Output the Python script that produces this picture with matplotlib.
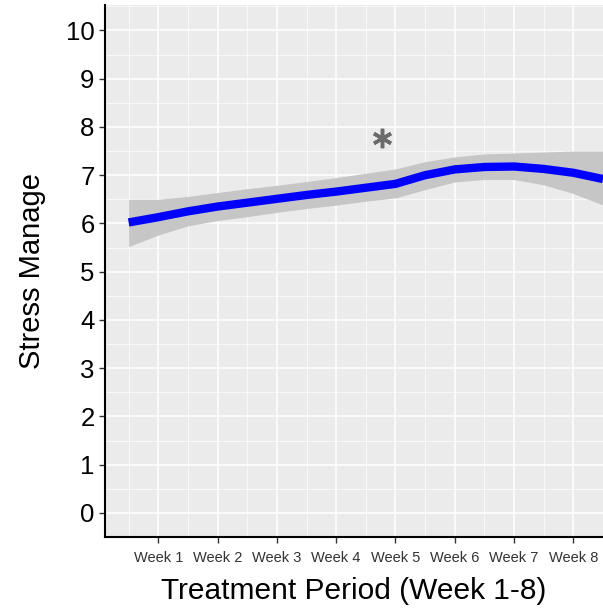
import matplotlib.pyplot as plt

plt.rcParams['font.family'] = ['Liberation Sans', 'DejaVu Sans']

# Loess-style fitted trend of stress management over the treatment weeks
weeks = [0.5, 1.0, 1.5, 2.0, 2.5, 3.0, 3.5, 4.0, 4.5, 5.0, 5.5, 6.0, 6.5, 7.0, 7.5, 8.0, 8.5]
fit = [6.02, 6.13, 6.25, 6.35, 6.43, 6.51, 6.59, 6.66, 6.74, 6.82, 7.00, 7.12, 7.17, 7.18, 7.13, 7.05, 6.92]
upper = [6.50, 6.50, 6.56, 6.64, 6.72, 6.79, 6.87, 6.95, 7.04, 7.13, 7.28, 7.38, 7.44, 7.46, 7.48, 7.50, 7.50]
lower = [5.52, 5.76, 5.95, 6.06, 6.14, 6.23, 6.31, 6.38, 6.46, 6.53, 6.70, 6.86, 6.91, 6.91, 6.80, 6.62, 6.38]

# significance star position
star_week = 4.77
star_value = 7.77

tick_pos = [1, 2, 3, 4, 5, 6, 7, 8]
tick_labels = ['Week 1', 'Week 2', 'Week 3', 'Week 4', 'Week 5', 'Week 6', 'Week 7', 'Week 8']
y_ticks = list(range(0, 11))

fig = plt.figure(figsize=(6.03, 6.13), dpi=100)
ax = fig.add_axes([0.174, 0.124, 0.826, 0.868])
ax.set_facecolor('#EBEBEB')

ax.fill_between(weeks, lower, upper, color='#C6C6C6', linewidth=0, zorder=2)
ax.plot(weeks, fit, color='#0000FF', linewidth=6, solid_capstyle='butt',
        solid_joinstyle='round', zorder=3)

ax.plot([star_week], [star_value], marker=(6, 2, 0), markersize=14,
        markeredgewidth=2.5, color='#6B6B6B', linestyle='none', zorder=4)

ax.set_xlim(0.1, 8.4)
ax.set_ylim(-0.43, 10.53)
ax.set_xticks(tick_pos)
ax.set_xticklabels(tick_labels, fontsize=10.5, color='#333333')
ax.set_xticks([x + 0.5 for x in range(0, 9)], minor=True)
ax.set_yticks(y_ticks)
ax.set_yticklabels([str(v) for v in y_ticks], fontsize=18.5, color='black')
ax.set_yticks([v + 0.5 for v in range(-1, 11)], minor=True)

ax.grid(which='major', color='white', linewidth=1.1, zorder=1)
ax.grid(which='minor', color='white', linewidth=0.5, zorder=1)
ax.set_axisbelow(True)
ax.tick_params(which='major', length=4, width=1, color='#333333')
ax.tick_params(which='minor', length=0)
ax.tick_params(axis='x', pad=6)

for side in ['top', 'right']:
    ax.spines[side].set_visible(False)
for side in ['left', 'bottom']:
    ax.spines[side].set_linewidth(1.5)
    ax.spines[side].set_color('black')

ax.set_xlabel('Treatment Period (Week 1-8)', fontsize=21.5, labelpad=9)
ax.set_ylabel('Stress Manage', fontsize=21, labelpad=14)

fig.savefig('out.png', dpi=100)
